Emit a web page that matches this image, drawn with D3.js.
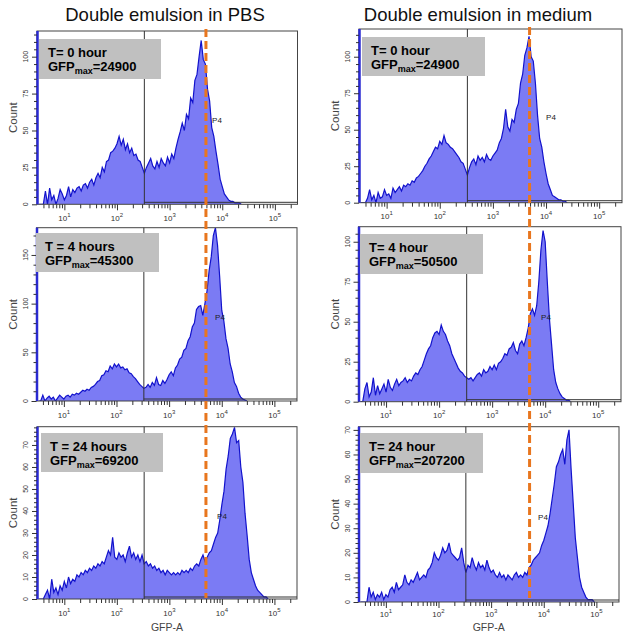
<!DOCTYPE html>
<html><head><meta charset="utf-8">
<script src="https://cdn.jsdelivr.net/npm/d3@7"></script>
<style>body{margin:0;background:#fff;} svg{display:block;font-family:Arial,"Liberation Sans",sans-serif;}</style>
</head><body><svg id="c" width="629" height="641"></svg>
<script>
// ---------------- data ----------------
const columnTitles = ["Double emulsion in PBS", "Double emulsion in medium"];
const timeLabels = ["T= 0 hour", "T = 4 hours", "T = 24 hours", "T= 0 hour", "T= 4 hour", "T= 24 hour"];
const gfpMaxValues = ["24900", "45300", "69200", "24900", "50500", "207200"];
const gateLabel = "P4";
const xAxisTitle = "GFP-A";
const yAxisTitle = "Count";
const xTickDecades = [1, 2, 3, 4, 5];          // labels 10^1 .. 10^5
const binStartLog = 0.5, binStepLog = 0.04;     // histogram bins on log10(GFP-A)
const gateLow = 331;                            // P4 gate lower bound
const refLine = 4900;                           // dashed reference GFP level
const xDomain = [3.02, 269000];

const countsPBS0 = [0,0,0,9,0,11,3,6,0,4,10,7,3,6,12,5,10,8,11,12,9,13,14,11,15,17,13,18,21,18,25,22,29,30,35,36,38,41,46,40,44,37,41,35,38,33,34,30,29,25,21,25,28,31,26,24,29,25,31,28,26,32,28,34,31,38,44,49,55,50,61,58,72,69,84,88,100,111,98,95,78,70,52,46,36,27,17,12,7,5,3,2,2,1,1,1,0];
const countsPBS4 = [0,0,6,0,3,5,2,4,0,3,6,4,2,5,6,4,7,6,8,7,9,11,10,12,11,14,15,17,20,21,26,27,31,30,36,33,38,35,38,34,35,32,33,29,28,25,23,20,17,15,13,14,17,14,19,16,24,17,16,21,18,22,27,30,26,34,37,43,45,52,54,62,66,76,80,94,97,98,88,100,113,134,148,170,178,160,128,93,82,64,54,38,30,19,15,8,4,2,1,0];
const countsPBS24 = [0,0,0,2,4,0,9,3,5,2,6,4,8,5,10,7,9,8,11,10,12,11,13,12,14,13,15,14,16,15,17,16,19,22,20,28,19,18,21,19,20,17,21,24,19,21,18,20,17,20,16,17,15,16,14,15,13,14,12,13,11,13,12,11,12,11,12,11,13,12,13,12,14,13,15,16,15,18,20,17,19,21,22,25,28,30,36,43,49,59,65,73,75,78,71,72,60,53,39,29,18,12,9,6,4,3,2,1,1,0];
const countsMed0 = [0,0,0,3,9,2,5,0,7,3,4,9,5,6,3,10,7,9,11,8,12,11,13,12,15,14,17,18,20,22,25,27,30,32,35,38,37,42,40,46,41,40,38,37,35,33,31,28,27,23,19,24,28,30,26,32,29,31,28,33,30,29,32,34,36,41,44,51,64,52,49,57,55,64,68,82,88,101,106,114,100,97,82,60,44,38,28,20,13,9,5,4,3,2,2,1,1,0];
const countsMed4 = [0,0,8,12,3,6,15,4,10,5,8,11,6,14,9,7,11,14,10,12,13,15,12,14,13,16,18,17,20,22,26,30,33,35,40,43,44,42,48,44,42,38,35,30,27,24,21,19,18,16,15,14,15,13,15,17,18,16,20,18,19,22,20,23,20,24,25,27,30,29,33,34,37,32,30,36,38,35,40,46,55,58,54,60,75,95,107,100,75,52,36,20,12,8,5,3,2,1,1,0];
const countsMed24 = [0,0,0,0,6,2,4,1,3,2,4,1,3,2,5,6,4,8,5,6,7,11,8,7,9,8,10,12,9,10,11,10,13,14,16,20,18,17,19,22,20,21,24,20,19,18,17,18,22,16,12,15,14,18,15,13,16,14,15,13,17,14,12,13,11,10,12,10,11,9,11,10,9,11,12,10,11,10,12,11,14,15,17,18,19,20,23,25,28,31,36,42,48,55,57,60,62,56,66,70,54,40,26,18,10,6,4,2,1,1,1,0];

const yMaxes = [117.4, 178, 78.3, 119, 109.4, 71.3];
const yMajorSteps = [25, 50, 10, 25, 25, 10];
const yMinorSteps = [5, 10, 2, 5, 5, 2];

// ---------------- layout ----------------
const layout = [
  {x0:37,   x1:297.5, y0:31,    y1:204.3, box:[39,39,122,40],   p4:[217,120], xlabel:false, tl:16.5},
  {x0:36.5, x1:297,   y0:227.7, y1:401,   box:[36,233,123,39],  p4:[220,317], xlabel:false, tl:16.5},
  {x0:37,   x1:297,   y0:426.7, y1:599,   box:[41,433,122,39],  p4:[222,516], xlabel:true,  tl:16.5},
  {x0:359,  x1:622,   y0:29,    y1:202.7, box:[362,37,123,39],  p4:[551,117], xlabel:false, tl:16.5},
  {x0:358.5,x1:621,   y0:226.7, y1:401.7, box:[360,234,123,40], p4:[546,317], xlabel:false, tl:16.5},
  {x0:358.5,x1:619,   y0:426.7, y1:602,   box:[360,433,123,40], p4:[543,517], xlabel:true,  tl:14.5}
];
const series = [countsPBS0, countsPBS4, countsPBS24, countsMed0, countsMed4, countsMed24];

const svg = d3.select("#c");
svg.append("rect").attr("width",629).attr("height",641).attr("fill","#fff");
const defs = svg.append("defs");

svg.selectAll("text.title").data(columnTitles).join("text")
  .attr("class","title")
  .attr("x",(d,i)=>[165,478][i]).attr("y",21)
  .attr("text-anchor","middle").attr("font-size",18.5).attr("fill","#111")
  .text(d=>d);

const xScales = [];
layout.forEach((L,i)=>{
  const g = svg.append("g");
  const x = d3.scaleLog().domain(xDomain).range([L.x0, L.x1]);
  const y = d3.scaleLinear().domain([0, yMaxes[i]]).range([L.y1, L.y0]);
  xScales.push(x);
  const clipId = "clip"+i;
  defs.append("clipPath").attr("id",clipId).append("rect")
    .attr("x",L.x0).attr("y",L.y0).attr("width",L.x1-L.x0).attr("height",L.y1-L.y0);

  const data = series[i].map((c,k)=>({v: Math.pow(10, binStartLog + binStepLog*(k+0.5)), c}));
  const area = d3.area().x(d=>x(d.v)).y0(y(0)).y1(d=>y(d.c));
  const line = d3.line().x(d=>x(d.v)).y(d=>y(d.c));
  g.append("path").datum(data).attr("d",area).attr("fill","#7b7bf4").attr("clip-path",`url(#${clipId})`);
  g.append("path").datum(data).attr("d",line).attr("fill","none").attr("stroke","#1212cc")
    .attr("stroke-width",1.2).attr("stroke-linejoin","miter").attr("clip-path",`url(#${clipId})`);

  // frame
  g.append("rect").attr("x",L.x0).attr("y",L.y0).attr("width",L.x1-L.x0).attr("height",L.y1-L.y0)
    .attr("fill","none").attr("stroke","#444").attr("stroke-width",1);
  // gate
  g.append("line").attr("x1",x(gateLow)).attr("x2",x(gateLow)).attr("y1",L.y0).attr("y2",L.y1)
    .attr("stroke","#333").attr("stroke-width",1);
  g.append("line").attr("x1",x(gateLow)).attr("x2",L.x1).attr("y1",L.y1-2).attr("y2",L.y1-2)
    .attr("stroke","#333").attr("stroke-width",1);
  // blue left edge (off-scale bin)
  g.append("line").attr("x1",L.x0+0.5).attr("x2",L.x0+0.5).attr("y1",L.y0).attr("y2",L.y1)
    .attr("stroke","#2a2ad2").attr("stroke-width",2.5);

  // y axis
  const yMajor = d3.range(0, yMaxes[i]+0.001, yMajorSteps[i]);
  const yMinor = d3.range(0, yMaxes[i], yMinorSteps[i]).filter(v=>Math.abs(v % yMajorSteps[i])>1e-6);
  const ax1 = g.append("g").attr("transform",`translate(${L.x0},0)`)
    .call(d3.axisLeft(y).tickValues(yMinor).tickSize(3).tickFormat(""));
  const ax2 = g.append("g").attr("transform",`translate(${L.x0},0)`)
    .call(d3.axisLeft(y).tickValues(yMajor).tickSize(5).tickFormat(""));
  [ax1,ax2].forEach(a=>{a.select(".domain").remove(); a.selectAll("line").attr("stroke","#333");});
  g.selectAll(null).data(yMajor).join("text")
    .attr("transform",d=>`translate(${L.x0-11},${y(d)}) rotate(-90)`)
    .attr("dy","0.35em").attr("text-anchor","middle").attr("font-size",7).attr("fill","#333")
    .text(d=>d);
  g.append("text").attr("transform",`translate(${L.x0-24},${(L.y0+L.y1)/2}) rotate(-90)`)
    .attr("dy","0.35em").attr("text-anchor","middle").attr("font-size",11.5).attr("fill","#444")
    .text(yAxisTitle);

  // x axis
  const xMajor = xTickDecades.map(d=>Math.pow(10,d));
  const xMinor = [];
  for (let d=0; d<=5; d++) for (let m=2; m<=9; m++) {
    const v = m*Math.pow(10,d);
    if (v>xDomain[0] && v<xDomain[1]) xMinor.push(v);
  }
  const bx1 = g.append("g").attr("transform",`translate(0,${L.y1})`)
    .call(d3.axisBottom(x).tickValues(xMinor).tickSize(4).tickFormat(""));
  const bx2 = g.append("g").attr("transform",`translate(0,${L.y1})`)
    .call(d3.axisBottom(x).tickValues(xMajor).tickSize(6).tickFormat(""));
  [bx1,bx2].forEach(a=>{a.select(".domain").remove(); a.selectAll("line").attr("stroke","#333");});
  const lab = g.selectAll(null).data(xTickDecades).join("text")
    .attr("x",d=>x(Math.pow(10,d))).attr("y",L.y1+L.tl)
    .attr("text-anchor","middle").attr("font-size",8).attr("fill","#333");
  lab.append("tspan").text("10");
  lab.append("tspan").attr("dy",-4).attr("font-size",6).text(d=>d);
  if (L.xlabel) {
    g.append("text").attr("x",(L.x0+L.x1)/2).attr("y",630.5)
      .attr("text-anchor","middle").attr("font-size",10.5).attr("fill","#444").text(xAxisTitle);
  }

  // P4 label
  g.append("text").attr("x",L.p4[0]).attr("y",L.p4[1]).attr("dy","0.35em")
    .attr("text-anchor","middle").attr("font-size",8).attr("fill","#222").text(gateLabel);

  // info box
  const [bx,by,bw,bh] = L.box;
  g.append("rect").attr("x",bx).attr("y",by).attr("width",bw).attr("height",bh).attr("fill","#c0c0c0");
  g.append("text").attr("x",bx+9).attr("y",by+17.5).attr("font-size",13).attr("font-weight","bold")
    .attr("fill","#000").text(timeLabels[i]);
  const t2 = g.append("text").attr("x",bx+9).attr("y",by+31.5).attr("font-size",13).attr("font-weight","bold").attr("fill","#000");
  t2.append("tspan").text("GFP");
  t2.append("tspan").attr("dy",3).attr("font-size",9).text("max");
  t2.append("tspan").attr("dy",-3).text("=" + gfpMaxValues[i]);
});

// orange dashed reference line, spanning each column
[[0,29,598],[3,27,598]].forEach(([pi,ya,yb])=>{
  const xv = xScales[pi](refLine);
  svg.append("line").attr("x1",xv).attr("x2",xv).attr("y1",ya).attr("y2",yb)
    .attr("stroke","#e8761e").attr("stroke-width",3).attr("stroke-dasharray","8,4");
});
</script>
</body></html>
